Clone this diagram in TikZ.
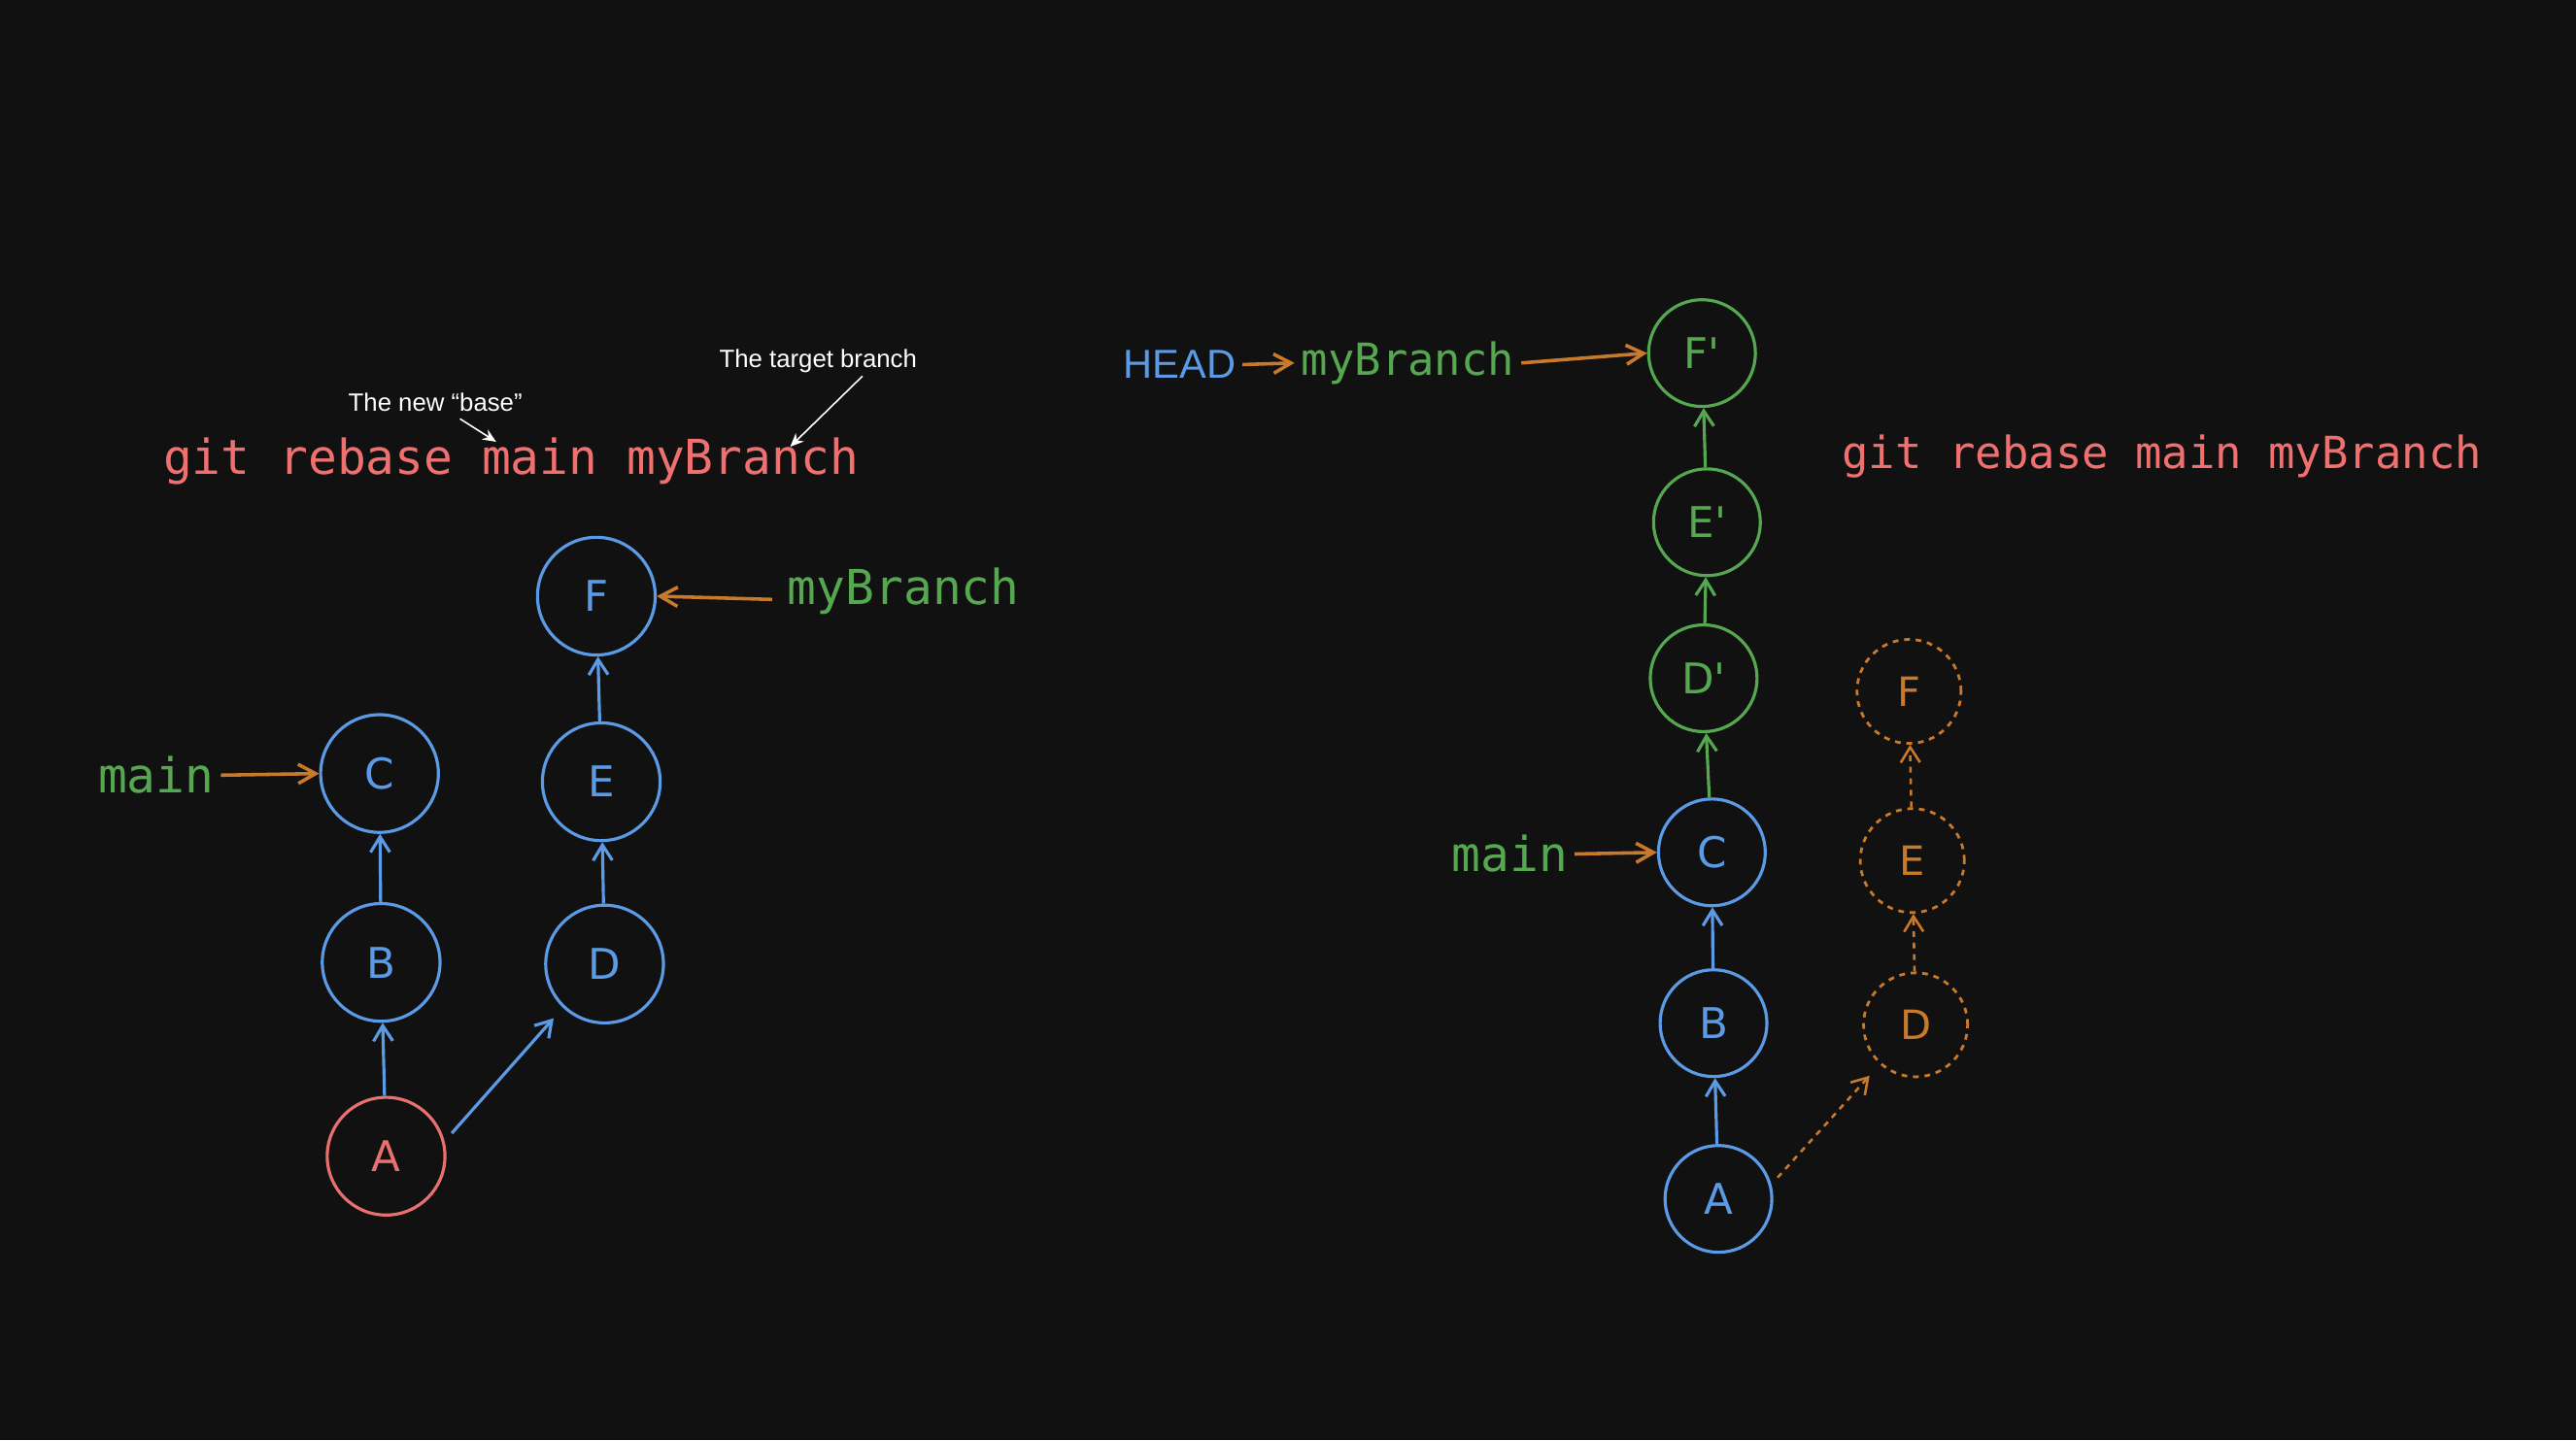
\documentclass[tikz,border=0pt]{standalone}
\usepackage{fontspec}
\setmainfont{Liberation Sans}
\newfontfamily\codefont{DejaVu Sans Mono}
\newfontfamily\letfont{DejaVu Sans}
\usetikzlibrary{arrows.meta}
\definecolor{bg}{HTML}{111111}
\definecolor{cblue}{HTML}{5B9BE6}
\definecolor{cred}{HTML}{E8716F}
\definecolor{cgreen}{HTML}{55A84F}
\definecolor{corange}{HTML}{C87A2A}
\definecolor{ctext}{HTML}{F07070}
\begin{document}
\begin{tikzpicture}[x=0.03cm,y=-0.03cm,
 commit/.style={circle,draw=#1,text=#1,line width=1.6pt,minimum size=2.15cm,inner sep=0pt,font=\letfont\fontsize{22}{26}\selectfont},
 old/.style={circle,draw=corange,text=corange,dashed,line width=1.4pt,minimum size=1.9cm,inner sep=0pt,font=\letfont\fontsize{21}{25}\selectfont},
 edge/.style={draw=#1,line width=1.6pt,-{Straight Barb[length=8pt,width=10pt]}},
 ptr/.style={draw=corange,line width=1.8pt,-{Straight Barb[length=9pt,width=10pt]}},
 code/.style={text=ctext,font=\codefont\fontsize{25}{30}\selectfont},
 lab/.style={text=cgreen,font=\codefont\fontsize{25}{30}\selectfont},
 note/.style={text=white,font=\fontsize{13}{16}\selectfont},
 narrow/.style={draw=white,line width=0.8pt,-{Stealth[length=7pt,width=6pt]}}]
\fill[bg] (0,0) rectangle (1568,877);
\useasboundingbox (0,0) rectangle (1568,877);
% left
\node[commit=cred] (A) at (235,704) {A};
\node[commit=cblue] (B) at (232,586) {B};
\node[commit=cblue] (C) at (231,471) {C};
\node[commit=cblue] (D) at (368,587) {D};
\node[commit=cblue] (E) at (366,476) {E};
\node[commit=cblue] (F) at (363,363) {F};
\draw[edge=cblue] (A) -- (B);
\draw[edge=cblue] (B) -- (C);
\draw[edge=cblue] (D) -- (E);
\draw[edge=cblue] (E) -- (F);
\coordinate (aa) at (275,690); \coordinate (ad) at (337,620);
\draw[edge=cblue] (aa) -- (ad);
\node[lab] (mainL) at (95,472) {main};
\draw[ptr] (mainL.east) -- (C.west);
\node[lab] (mbL) at (550,360) {myBranch};
\coordinate (mbs) at (470,365);
\draw[ptr] (mbs) -- (F.east);
\node[code] (gitL) at (311,281) {git rebase main myBranch};
\node[note] (base) at (265,245) {The new “base”};
\coordinate (b1) at (280,255); \coordinate (b2) at (302,269);
\draw[narrow] (b1) -- (b2);
\node[note] (tgt) at (498,220) {The target branch};
\coordinate (t1) at (525,229); \coordinate (t2) at (481,272);
\draw[narrow] (t1) -- (t2);
% right
\node[commit=cgreen,minimum size=1.95cm] (Fp) at (1036,215) {F'};
\node[commit=cgreen,minimum size=1.95cm] (Ep) at (1039,318) {E'};
\node[commit=cgreen,minimum size=1.95cm] (Dp) at (1037,413) {D'};
\node[commit=cblue,minimum size=1.95cm] (C2) at (1042,519) {C};
\node[commit=cblue,minimum size=1.95cm] (B2) at (1043,623) {B};
\node[commit=cblue,minimum size=1.95cm] (A2) at (1046,730) {A};
\node[old] (Fo) at (1162,421) {F};
\node[old] (Eo) at (1164,524) {E};
\node[old] (Do) at (1166,624) {D};
\draw[edge=cblue] (A2) -- (B2);
\draw[edge=cblue] (B2) -- (C2);
\draw[edge=cgreen] (C2) -- (Dp);
\draw[edge=cgreen] (Dp) -- (Ep);
\draw[edge=cgreen] (Ep) -- (Fp);
\draw[edge=corange,dashed,line width=1.3pt] (Do) -- (Eo);
\draw[edge=corange,dashed,line width=1.3pt] (Eo) -- (Fo);
\coordinate (ra) at (1082,717); \coordinate (rd) at (1138,655);
\draw[edge=corange,dashed,line width=1.3pt] (ra) -- (rd);
\node[text=cblue,font=\fontsize{21}{26}\selectfont] (head) at (718,222) {HEAD};
\node[lab,font=\codefont\fontsize{23}{28}\selectfont] (mbR) at (857,221) {myBranch};
\draw[ptr] (head.east) -- (mbR.west);
\draw[ptr] (mbR.east) -- (Fp.west);
\node[lab] (mainR) at (919,520) {main};
\draw[ptr] (mainR.east) -- (C2.west);
\node[code,font=\codefont\fontsize{23}{28}\selectfont] (gitR) at (1316,278) {git rebase main myBranch};
\end{tikzpicture}
\end{document}
